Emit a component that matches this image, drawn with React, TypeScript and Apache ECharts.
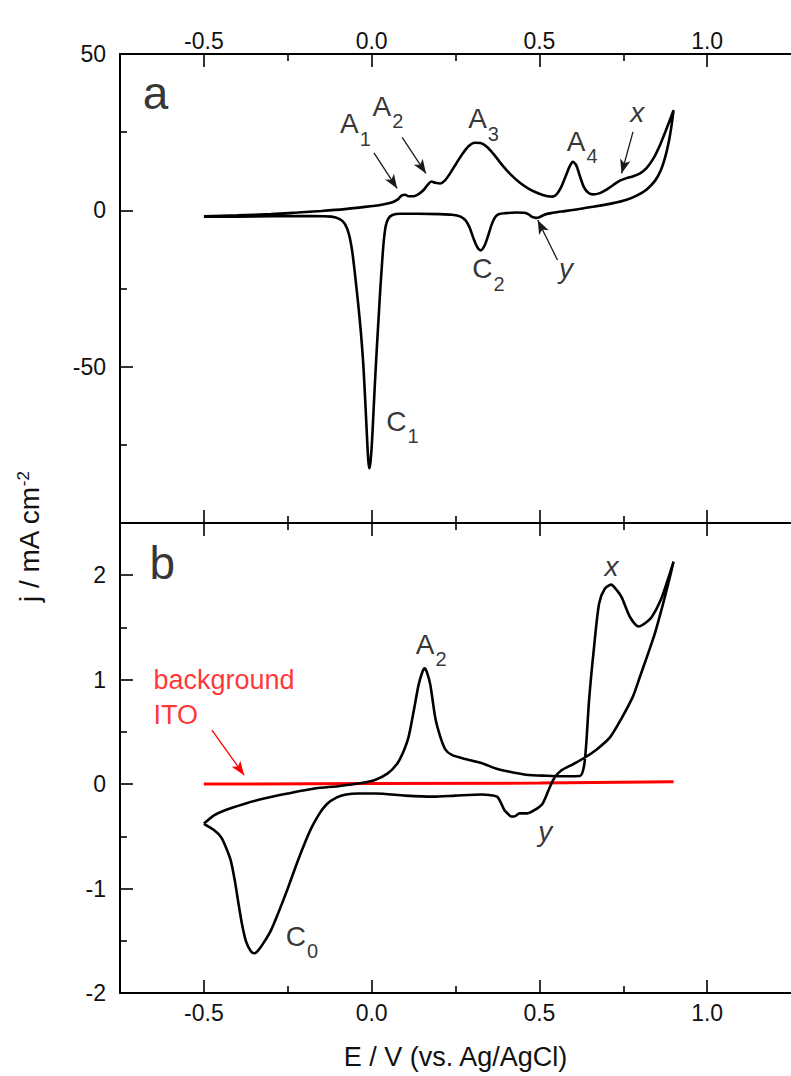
import React, { useEffect, useRef } from 'react';
import * as echarts from 'echarts';

const FONT = "'Liberation Sans', Arial, Helvetica, sans-serif";

// ---- axes ----
const X_MIN = -0.75;
const X_MAX = 1.25;
const xMajor = [-0.5, 0, 0.5, 1.0];
const xMinor = [-0.25, 0.25, 0.75];
const A_MIN = -100;
const A_MAX = 50;
const aMajor = [-50, 0, 50];
const aMinor = [-75, -25, 25];
const B_MIN = -2;
const B_MAX = 2.5;
const bMajor = [-2, -1, 0, 1, 2];
const bMinor = [-1.5, -0.5, 0.5, 1.5];

// ---- panel a: CV (E / V, j / mA cm-2) ----
const cvA_anodic: [number, number][] = [
  [-0.5, -1.9], [-0.4, -1.6], [-0.3, -1.2], [-0.22, -0.7], [-0.15, -0.2], [-0.08, 0.4], [-0.02, 1.1],
  [0.03, 1.8], [0.06, 2.5], [0.078, 3.5], [0.09, 4.8], [0.1, 5.0], [0.11, 4.5], [0.125, 4.5],
  [0.14, 5.2], [0.155, 6.5], [0.168, 8.3], [0.178, 9.2], [0.19, 8.8], [0.205, 8.6], [0.218, 9.5],
  [0.232, 11.5], [0.25, 14.6], [0.268, 17.6], [0.288, 20.4], [0.308, 21.6], [0.325, 21.5],
  [0.345, 20.2], [0.365, 17.8], [0.39, 14.4], [0.415, 11.4], [0.44, 9.0], [0.47, 6.8], [0.5, 5.3],
  [0.525, 4.5], [0.54, 4.4], [0.552, 5.2], [0.565, 7.4], [0.578, 10.8], [0.59, 14.0], [0.6, 15.5],
  [0.61, 14.4], [0.62, 11.2], [0.632, 7.6], [0.645, 5.7], [0.66, 5.1], [0.68, 5.5], [0.7, 6.6],
  [0.72, 8.1], [0.74, 9.5], [0.76, 10.3], [0.78, 10.9], [0.8, 11.8], [0.82, 13.6], [0.84, 16.6],
  [0.86, 21.0], [0.875, 25.0], [0.888, 28.6], [0.9, 32.0],
];
const cvA_cathodic: [number, number][] = [
  [0.9, 32.0], [0.893, 26.5], [0.885, 21.5], [0.875, 17.0], [0.862, 12.8], [0.845, 9.5], [0.82, 6.7],
  [0.79, 4.7], [0.76, 3.4], [0.72, 2.3], [0.68, 1.5], [0.64, 0.8], [0.6, 0.1], [0.565, -0.4],
  [0.535, -0.9], [0.515, -1.4], [0.5, -2.2], [0.49, -2.4], [0.478, -2.1], [0.468, -1.3], [0.455, -0.8],
  [0.43, -0.7], [0.4, -0.9], [0.38, -1.2], [0.368, -2.2], [0.358, -4.5], [0.347, -8.2], [0.336, -11.4],
  [0.325, -12.8], [0.314, -11.6], [0.303, -8.8], [0.292, -5.5], [0.28, -3.2], [0.265, -2.0],
  [0.24, -1.4], [0.2, -1.2], [0.14, -1.1], [0.085, -1.1], [0.062, -1.5], [0.05, -2.6], [0.042, -5],
  [0.036, -10], [0.031, -17], [0.026, -25], [0.021, -34], [0.015, -45], [0.009, -57], [0.004, -68],
  [0.0, -76], [-0.004, -81], [-0.007, -82.5], [-0.01, -80], [-0.014, -72], [-0.019, -61],
  [-0.025, -49], [-0.032, -39], [-0.04, -30], [-0.049, -21], [-0.058, -13], [-0.068, -7.5],
  [-0.08, -4.3], [-0.095, -2.8], [-0.12, -2.0], [-0.18, -1.8], [-0.3, -1.9], [-0.4, -2.0], [-0.5, -2.0],
];

// ---- panel b ----
const cvB_anodic: [number, number][] = [
  [-0.5, -0.38], [-0.47, -0.3], [-0.437, -0.25], [-0.38, -0.19], [-0.324, -0.14], [-0.25, -0.09],
  [-0.166, -0.04], [-0.1, -0.02], [-0.031, 0.01], [0.01, 0.04], [0.047, 0.1], [0.075, 0.19],
  [0.092, 0.29], [0.11, 0.45], [0.126, 0.71], [0.14, 0.95], [0.152, 1.08], [0.158, 1.11],
  [0.165, 1.07], [0.175, 0.95], [0.19, 0.63], [0.205, 0.45], [0.22, 0.33], [0.239, 0.28],
  [0.28, 0.24], [0.329, 0.2], [0.37, 0.15], [0.408, 0.12], [0.46, 0.09], [0.52, 0.08], [0.58, 0.075],
  [0.621, 0.077], [0.633, 0.17], [0.64, 0.4], [0.648, 0.8], [0.661, 1.25], [0.678, 1.73],
  [0.695, 1.87], [0.714, 1.91], [0.73, 1.86], [0.745, 1.79], [0.77, 1.6], [0.796, 1.51],
  [0.815, 1.54], [0.835, 1.6], [0.86, 1.75], [0.88, 1.93], [0.9, 2.13],
];
const cvB_cathodic: [number, number][] = [
  [0.9, 2.13], [0.885, 1.93], [0.869, 1.73], [0.845, 1.45], [0.824, 1.25], [0.8, 1.03], [0.779, 0.84],
  [0.745, 0.63], [0.711, 0.45], [0.67, 0.33], [0.633, 0.25], [0.6, 0.19], [0.565, 0.13], [0.545, 0.06],
  [0.531, -0.03], [0.509, -0.19], [0.485, -0.25], [0.464, -0.28], [0.441, -0.28], [0.425, -0.31],
  [0.416, -0.31], [0.405, -0.28], [0.396, -0.25], [0.384, -0.17], [0.374, -0.12], [0.35, -0.105],
  [0.329, -0.1], [0.25, -0.11], [0.182, -0.12], [0.1, -0.11], [0.013, -0.09], [-0.04, -0.09],
  [-0.076, -0.1], [-0.105, -0.13], [-0.133, -0.19], [-0.155, -0.28], [-0.178, -0.41], [-0.2, -0.57],
  [-0.223, -0.76], [-0.25, -1.0], [-0.279, -1.24], [-0.3, -1.4], [-0.324, -1.53], [-0.34, -1.6],
  [-0.349, -1.62], [-0.36, -1.6], [-0.375, -1.5], [-0.387, -1.33], [-0.397, -1.14], [-0.408, -0.92],
  [-0.42, -0.73], [-0.435, -0.6], [-0.448, -0.51], [-0.47, -0.44], [-0.5, -0.38],
];
const itoBackground: [number, number][] = [
  [-0.5, 0.0], [0.0, 0.005], [0.5, 0.01], [0.9, 0.022],
];

// ---- annotations: [rich text, E, j] (top-left anchor) ----
const labelsA: [string, number, number][] = [
  ['{big|a}', -0.682, 44.8],
  ['{m|A}{s|1}', -0.094, 32.1],
  ['{m|A}{s|2}', 0.003, 37.8],
  ['{m|A}{s|3}', 0.288, 33.7],
  ['{m|A}{s|4}', 0.582, 26.6],
  ['{i|x}', 0.771, 35.6],
  ['{m|C}{s|2}', 0.3, -14.3],
  ['{i|y}', 0.559, -14.2],
  ['{m|C}{s|1}', 0.044, -63],
];
const labelsB: [string, number, number][] = [
  ['{big|b}', -0.662, 2.333],
  ['{i|x}', 0.694, 2.217],
  ['{m|A}{s|2}', 0.132, 1.475],
  ['{r|background}\n{r|ITO}', -0.65, 1.161],
  ['{m|C}{s|0}', -0.256, -1.322],
  ['{i|y}', 0.497, -0.324],
];
// arrows: [E1, j1, E2, j2]
const arrowsA: [number, number, number, number][] = [
  [0.007, 18.4, 0.076, 7.0],
  [0.091, 23.3, 0.162, 11.8],
  [0.779, 25.1, 0.745, 11.8],
  [0.554, -15.9, 0.495, -3.1],
];
const arrowsB: [number, number, number, number][] = [
  [-0.476, 0.517, -0.38, 0.086],
];

const rich = {
  big: { fontSize: 46, lineHeight: 50, fontFamily: FONT, color: '#000', verticalAlign: 'top' },
  m: { fontSize: 28, lineHeight: 30, fontFamily: FONT, color: '#000', verticalAlign: 'top' },
  s: { fontSize: 20, lineHeight: 20, fontFamily: FONT, color: '#000', verticalAlign: 'top', padding: [19, 0, 0, 1] },
  i: { fontSize: 28, lineHeight: 30, fontFamily: FONT, fontStyle: 'italic', color: '#000', verticalAlign: 'top' },
  r: { fontSize: 27, lineHeight: 35, fontFamily: FONT, color: '#ff0000' },
};

const AXIS_LINE = { show: true, onZero: false, lineStyle: { color: '#000', width: 2 } };
const NO_LINE = { show: false, onZero: false };
const TICK_STYLE = { color: '#000', width: 1.6 };

function xAxisMain(gridIndex: number, position: string, showLabel: boolean, margin: number, name?: string) {
  return {
    type: 'value', gridIndex, position, min: X_MIN, max: X_MAX,
    name, nameLocation: 'middle', nameGap: 50,
    nameTextStyle: { fontSize: 27, fontFamily: FONT, color: '#111' },
    axisLine: AXIS_LINE,
    axisTick: { show: true, inside: true, length: 13, customValues: xMajor, lineStyle: TICK_STYLE },
    axisLabel: {
      show: showLabel, customValues: xMajor, margin, fontSize: 23, fontFamily: FONT, color: '#111',
      formatter: (v: number) => v.toFixed(1),
    },
    splitLine: { show: false },
  };
}
function xAxisMinor(gridIndex: number, position: string) {
  return {
    type: 'value', gridIndex, position, min: X_MIN, max: X_MAX,
    axisLine: NO_LINE,
    axisTick: { show: true, inside: true, length: 7, customValues: xMinor, lineStyle: TICK_STYLE },
    axisLabel: { show: false },
    splitLine: { show: false },
  };
}
function yAxisMain(gridIndex: number, min: number, max: number, major: number[]) {
  return {
    type: 'value', gridIndex, position: 'left', min, max,
    axisLine: AXIS_LINE,
    axisTick: { show: true, inside: true, length: 13, customValues: major, lineStyle: TICK_STYLE },
    axisLabel: { show: true, customValues: major, margin: 14, fontSize: 23, fontFamily: FONT, color: '#111' },
    splitLine: { show: false },
  };
}
function yAxisMinor(gridIndex: number, min: number, max: number, minor: number[]) {
  return {
    type: 'value', gridIndex, position: 'left', min, max,
    axisLine: NO_LINE,
    axisTick: { show: true, inside: true, length: 7, customValues: minor, lineStyle: TICK_STYLE },
    axisLabel: { show: false },
    splitLine: { show: false },
  };
}

function annotationSeries(xi: number, yi: number, labels: [string, number, number][], arrows: [number, number, number, number][], arrowColor: string) {
  return {
    type: 'scatter', xAxisIndex: xi, yAxisIndex: yi, symbolSize: 0.1, silent: true, z: 10,
    itemStyle: { color: 'rgba(0,0,0,0)' },
    label: { show: true, position: [0, 0], align: 'left', verticalAlign: 'top', rich },
    data: labels.map(([t, e, j]) => ({ value: [e, j], label: { formatter: t } })),
    markLine: {
      silent: true, animation: false,
      symbol: ['none', 'arrow'], symbolSize: [8, 14],
      label: { show: false },
      lineStyle: { color: arrowColor, width: 1.3, type: 'solid' },
      emphasis: { disabled: true },
      data: arrows.map(([x1, y1, x2, y2]) => [{ coord: [x1, y1] }, { coord: [x2, y2] }]),
    },
  };
}

export default function App() {
  const ref = useRef<HTMLDivElement>(null);
  useEffect(() => {
    const chart = echarts.init(ref.current as HTMLDivElement, null, { renderer: 'svg' });
    const option: any = {
      animation: false,
      backgroundColor: '#ffffff',
      grid: [
        { left: 120, top: 54, width: 680, height: 469, containLabel: false },
        { left: 120, top: 523, width: 680, height: 470, containLabel: false },
      ],
      xAxis: [
        xAxisMain(0, 'top', true, 2),
        xAxisMain(0, 'bottom', false, 6),
        xAxisMinor(0, 'top'),
        xAxisMinor(0, 'bottom'),
        xAxisMain(1, 'top', false, 6),
        xAxisMain(1, 'bottom', true, 8, 'E / V (vs. Ag/AgCl)'),
        xAxisMinor(1, 'top'),
        xAxisMinor(1, 'bottom'),
      ],
      yAxis: [
        yAxisMain(0, A_MIN, A_MAX, aMajor),
        yAxisMinor(0, A_MIN, A_MAX, aMinor),
        yAxisMain(1, B_MIN, B_MAX, bMajor),
        yAxisMinor(1, B_MIN, B_MAX, bMinor),
      ],
      graphic: [
        {
          type: 'text', x: 30, y: 537, rotation: Math.PI / 2,
          style: {
            text: '{m|j / mA cm}{s|-2}',
            rich: {
              m: { fontSize: 28, lineHeight: 30, fontFamily: FONT, fill: '#111', verticalAlign: 'top' },
              s: { fontSize: 17, lineHeight: 17, fontFamily: FONT, fill: '#111', verticalAlign: 'top' },
            },
            align: 'center', verticalAlign: 'middle', textAlign: 'center', textVerticalAlign: 'middle',
          },
        },
      ],
      series: [
        {
          type: 'line', name: 'a', xAxisIndex: 0, yAxisIndex: 0, showSymbol: false, smooth: 0.25,
          lineStyle: { color: '#000', width: 2.6 }, silent: true,
          data: [...cvA_anodic, ...cvA_cathodic],
        },
        {
          type: 'line', name: 'ITO', xAxisIndex: 5, yAxisIndex: 2, showSymbol: false,
          lineStyle: { color: '#ff0000', width: 3 }, silent: true,
          data: itoBackground,
        },
        {
          type: 'line', name: 'b', xAxisIndex: 5, yAxisIndex: 2, showSymbol: false, smooth: 0.25,
          lineStyle: { color: '#000', width: 2.6 }, silent: true,
          data: [...cvB_anodic, ...cvB_cathodic],
        },
        annotationSeries(0, 0, labelsA, arrowsA, '#1a1a1a'),
        annotationSeries(5, 2, labelsB, arrowsB, '#ff0000'),
      ],
    };
    chart.setOption(option);
    return () => chart.dispose();
  }, []);
  return (
    <div
      ref={ref}
      style={{ position: 'absolute', left: 0, top: 0, width: 791, height: 1076, background: '#fff' }}
    />
  );
}
